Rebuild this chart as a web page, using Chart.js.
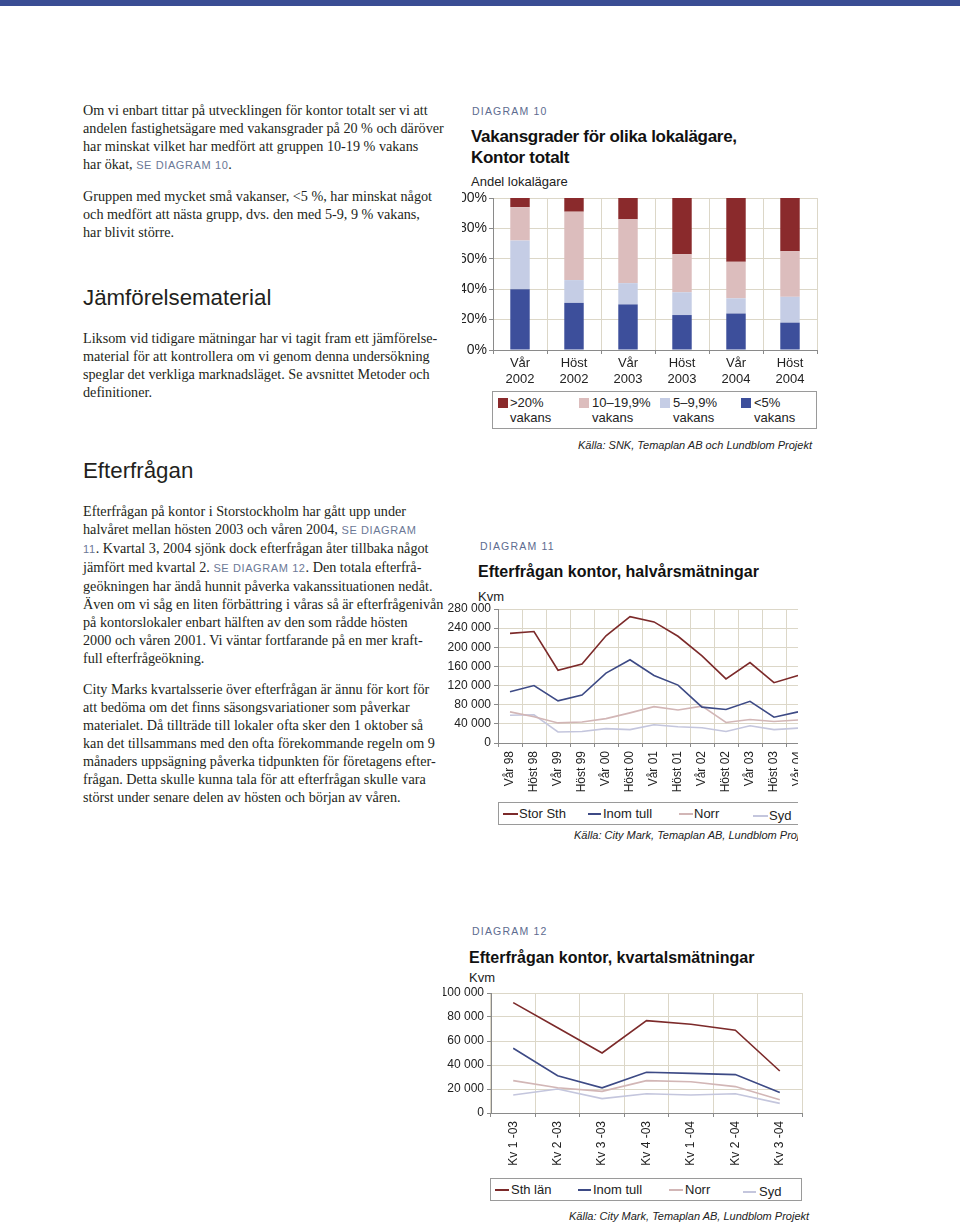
<!DOCTYPE html>
<html>
<head>
<meta charset="utf-8">
<script src="https://cdn.jsdelivr.net/npm/chart.js"></script>
<style>
  body { margin: 0; width: 960px; height: 1224px; position: relative; background: #fff; overflow: hidden; }
  .topbar { position: absolute; left: 0; top: 0; width: 960px; height: 6px; background: #3a4d94; }
  .txt { position: absolute; left: 83px; font-family: "Liberation Serif", serif; font-size: 14.2px; line-height: 18px; color: #231f20; white-space: nowrap; }
  .ref { font-family: "Liberation Sans", Arial, sans-serif; font-size: 11px; color: #6b7896; letter-spacing: 0.6px; }
  .head { position: absolute; left: 83px; font-family: "Liberation Sans", Arial, sans-serif; font-size: 22.3px; color: #231f20; white-space: nowrap; }
  .dlabel { position: absolute; font-family: "Liberation Sans", Arial, sans-serif; font-size: 10.5px; letter-spacing: 1.2px; color: #5d6b8f; white-space: nowrap; }
  .dtitle { position: absolute; font-family: "Liberation Sans", Arial, sans-serif; font-weight: bold; font-size: 17px; letter-spacing: -0.3px; line-height: 21px; color: #111; white-space: nowrap; }
  .unit { position: absolute; font-family: "Liberation Sans", Arial, sans-serif; font-size: 13px; color: #222; white-space: nowrap; }
  .clip { position: absolute; overflow: hidden; }
  .clip canvas { position: absolute; }
  .src { position: absolute; font-family: "Liberation Sans", Arial, sans-serif; font-style: italic; font-size: 11px; color: #222; white-space: nowrap; }
  .legbox { position: absolute; border: 1px solid #9a9a9a; box-sizing: border-box; font-family: "Liberation Sans", Arial, sans-serif; font-size: 13px; color: #222; }
  .legbox .it { position: absolute; white-space: nowrap; line-height: 15px; }
  .sq { position: absolute; width: 10px; height: 10px; }
  .ln { position: absolute; height: 2px; }
</style>
</head>
<body>
<div class="topbar"></div>

<!-- text column -->
<div class="txt" style="top:101px">Om vi enbart tittar på utvecklingen för kontor totalt ser vi att<br>andelen fastighetsägare med vakansgrader på 20 % och däröver<br>har minskat vilket har medfört att gruppen 10-19 % vakans<br>har ökat, <span class="ref">SE DIAGRAM 10</span>.</div>
<div class="txt" style="top:187px">Gruppen med mycket små vakanser, &lt;5 %, har minskat något<br>och medfört att nästa grupp, dvs. den med 5-9, 9 % vakans,<br>har blivit större.</div>
<div class="head" style="top:285px">Jämförelsematerial</div>
<div class="txt" style="top:329px">Liksom vid tidigare mätningar har vi tagit fram ett jämförelse-<br>material för att kontrollera om vi genom denna undersökning<br>speglar det verkliga marknadsläget. Se avsnittet Metoder och<br>definitioner.</div>
<div class="head" style="top:458px">Efterfrågan</div>
<div class="txt" style="top:502px">Efterfrågan på kontor i Storstockholm har gått upp under<br>halvåret mellan hösten 2003 och våren 2004, <span class="ref">SE DIAGRAM</span><br><span class="ref">11</span>. Kvartal 3, 2004 sjönk dock efterfrågan åter tillbaka något<br>jämfört med kvartal 2. <span class="ref">SE DIAGRAM 12</span>. Den totala efterfrå-<br>geökningen har ändå hunnit påverka vakanssituationen nedåt.<br>Även om vi såg en liten förbättring i våras så är efterfrågenivån<br>på kontorslokaler enbart hälften av den som rådde hösten<br>2000 och våren 2001. Vi väntar fortfarande på en mer kraft-<br>full efterfrågeökning.</div>
<div class="txt" style="top:680px">City Marks kvartalsserie över efterfrågan är ännu för kort för<br>att bedöma om det finns säsongsvariationer som påverkar<br>materialet. Då tillträde till lokaler ofta sker den 1 oktober så<br>kan det tillsammans med den ofta förekommande regeln om 9<br>månaders uppsägning påverka tidpunkten för företagens efter-<br>frågan. Detta skulle kunna tala för att efterfrågan skulle vara<br>störst under senare delen av hösten och början av våren.</div>

<!-- diagram 10 -->
<div class="dlabel" style="left:472px;top:105px">DIAGRAM 10</div>
<div class="dtitle" style="left:471px;top:126px">Vakansgrader för olika lokalägare,<br>Kontor totalt</div>
<div class="unit" style="left:471px;top:174px">Andel lokalägare</div>
<div class="clip" style="left:462px;top:186px;width:360px;height:204px">
  <canvas id="chart10" style="left:-7px;top:4px"></canvas>
</div>
<div class="legbox" style="left:492px;top:391px;width:325px;height:38px">
  <div class="sq" style="left:5px;top:6px;background:#8a2a2c"></div>
  <div class="it" style="left:17px;top:3px">&gt;20%<br>vakans</div>
  <div class="sq" style="left:86px;top:6px;background:#dcbdbd"></div>
  <div class="it" style="left:99px;top:3px">10–19,9%<br>vakans</div>
  <div class="sq" style="left:167px;top:6px;background:#c5cde5"></div>
  <div class="it" style="left:180px;top:3px">5–9,9%<br>vakans</div>
  <div class="sq" style="left:248px;top:6px;background:#3d4f9b"></div>
  <div class="it" style="left:261px;top:3px">&lt;5%<br>vakans</div>
</div>
<div class="src" style="left:578px;top:439px">Källa: SNK, Temaplan AB och Lundblom Projekt</div>

<!-- diagram 11 -->
<div class="dlabel" style="left:480px;top:540px">DIAGRAM 11</div>
<div class="dtitle" style="left:478px;top:561px;font-size:16px;letter-spacing:0">Efterfrågan kontor, halvårsmätningar</div>
<div class="unit" style="left:478px;top:589px">Kvm</div>
<div class="clip" style="left:440px;top:596px;width:358px;height:200px">
  <canvas id="chart11" style="left:0;top:5px"></canvas>
</div>
<div class="clip" style="left:498px;top:802px;width:300px;height:23px">
  <div class="legbox" style="left:0;top:0;width:320px;height:23px">
    <div class="ln" style="left:4px;top:10px;width:15px;background:#7c2a2a"></div>
    <div class="it" style="left:20px;top:3px">Stor Sth</div>
    <div class="ln" style="left:89px;top:10px;width:13px;background:#3d4a85"></div>
    <div class="it" style="left:104px;top:3px">Inom tull</div>
    <div class="ln" style="left:180px;top:10px;width:14px;background:#d2b6b6"></div>
    <div class="it" style="left:195px;top:3px">Norr</div>
    <div class="ln" style="left:254px;top:12px;width:15px;background:#c4c6dd"></div>
    <div class="it" style="left:270px;top:5px">Syd</div>
  </div>
</div>
<div class="clip" style="left:560px;top:828px;width:238px;height:16px">
  <div class="src" style="left:14px;top:1px">Källa: City Mark, Temaplan AB, Lundblom Projekt</div>
</div>

<!-- diagram 12 -->
<div class="dlabel" style="left:472px;top:925px">DIAGRAM 12</div>
<div class="dtitle" style="left:469px;top:947px;font-size:16px;letter-spacing:0">Efterfrågan kontor, kvartalsmätningar</div>
<div class="unit" style="left:469px;top:970px">Kvm</div>
<div class="clip" style="left:443px;top:980px;width:370px;height:190px">
  <canvas id="chart12" style="left:-13px;top:5px"></canvas>
</div>
<div class="legbox" style="left:490px;top:1178px;width:312px;height:23px">
  <div class="ln" style="left:4px;top:10px;width:14px;background:#7c2a2a"></div>
  <div class="it" style="left:20px;top:3px">Sth län</div>
  <div class="ln" style="left:87px;top:10px;width:13px;background:#3d4a85"></div>
  <div class="it" style="left:102px;top:3px">Inom tull</div>
  <div class="ln" style="left:178px;top:10px;width:14px;background:#d2b6b6"></div>
  <div class="it" style="left:194px;top:3px">Norr</div>
  <div class="ln" style="left:252px;top:12px;width:13px;background:#c4c6dd"></div>
  <div class="it" style="left:268px;top:5px">Syd</div>
</div>
<div class="src" style="left:569px;top:1210px">Källa: City Mark, Temaplan AB, Lundblom Projekt</div>

<script>
// Diagram 10 - vacancy shares (percent of owners)
const periods10 = [["Vår", "2002"], ["Höst", "2002"], ["Vår", "2003"], ["Höst", "2003"], ["Vår", "2004"], ["Höst", "2004"]];
const under5 = [40, 31, 30, 23, 24, 18];
const from5to9 = [32, 15, 14, 15, 10, 17];
const from10to19 = [22, 45, 42, 25, 24, 30];
const over20 = [6, 9, 14, 37, 42, 35];
const pctTicks = [0, 20, 40, 60, 80, 100];

// Diagram 11 - half-year demand (kvm)
const periods11 = ["Vår 98", "Höst 98", "Vår 99", "Höst 99", "Vår 00", "Höst 00", "Vår 01", "Höst 01", "Vår 02", "Höst 02", "Vår 03", "Höst 03", "Vår 04"];
const storSth = [229000, 233000, 152000, 165000, 224000, 264000, 253000, 223000, 182000, 134000, 168000, 126000, 141000];
const inomTull11 = [107000, 120000, 88000, 100000, 146000, 174000, 141000, 121000, 75000, 70000, 87000, 54000, 65000];
const norr11 = [65000, 55000, 42000, 44000, 51000, 63000, 76000, 69000, 77000, 43000, 49000, 45000, 48000];
const syd11 = [58000, 59000, 23000, 24000, 30000, 28000, 38000, 34000, 32000, 24000, 36000, 28000, 31000];

// Diagram 12 - quarterly demand (kvm)
const quarters12 = ["Kv 1 -03", "Kv 2 -03", "Kv 3 -03", "Kv 4 -03", "Kv 1 -04", "Kv 2 -04", "Kv 3 -04"];
const sthLan = [92000, 71000, 50000, 77000, 74000, 69000, 35000];
const inomTull12 = [54000, 31000, 21000, 34000, 33000, 32000, 17000];
const norr12 = [27000, 21000, 18000, 27000, 26000, 22000, 11000];
const syd12 = [15000, 20000, 12000, 16000, 15000, 16000, 8000];

const gridColor = "#dcd7c8";
const axisColor = "#8a8a8a";
const font = "'Liberation Sans', Arial, sans-serif";

function kvm(value) {
  if (value === 0) return "0";
  return value / 1000 + " 000";
}

function sizeCanvas(id, w, h) {
  const c = document.getElementById(id);
  c.width = w;
  c.height = h;
  c.style.width = w + "px";
  c.style.height = h + "px";
  return c.getContext("2d");
}

// keep the plot area exactly where the layout padding puts it
function fitX(height) {
  return (s) => { s.height = height; s.paddingLeft = 0; s.paddingRight = 0; };
}
function fitY(width) {
  return (s) => { s.width = width; s.paddingTop = 0; s.paddingBottom = 0; };
}

// Bar chart
function drawDiagram10() {
  const ctx = sizeCanvas("chart10", 363, 200);
  new Chart(ctx, {
    type: "bar",
    data: {
      labels: periods10,
      datasets: [
        { label: "<5% vakans", data: under5, backgroundColor: "#3d4f9b" },
        { label: "5–9,9% vakans", data: from5to9, backgroundColor: "#c5cde5" },
        { label: "10–19,9% vakans", data: from10to19, backgroundColor: "#dcbdbd" },
        { label: ">20% vakans", data: over20, backgroundColor: "#8a2a2c" },
      ],
    },
    options: {
      responsive: false,
      animation: false,
      layout: { padding: { top: 8, right: 1, bottom: 0, left: 0 } },
      datasets: { bar: { categoryPercentage: 1, barPercentage: 0.36 } },
      plugins: { legend: { display: false }, tooltip: { enabled: false } },
      scales: {
        x: {
          stacked: true,
          grid: { color: gridColor, tickColor: axisColor, tickLength: 4 },
          border: { color: axisColor },
          ticks: { color: "#222", font: { family: font, size: 13 }, padding: 2 },
          afterFit: fitX(40),
        },
        y: {
          stacked: true,
          min: 0,
          max: 100,
          afterBuildTicks: (s) => { s.ticks = pctTicks.map((v) => ({ value: v })); },
          grid: { color: gridColor, tickColor: axisColor, tickLength: 4 },
          border: { color: axisColor },
          ticks: { color: "#222", font: { family: font, size: 14 }, padding: 2, callback: (v) => v + "%" },
          afterFit: fitY(38),
        },
      },
    },
  });
}

// Line charts
function drawLines(id, w, h, labels, series, max, step, yWidth, xHeight) {
  const ctx = sizeCanvas(id, w, h);
  new Chart(ctx, {
    type: "line",
    data: {
      labels: labels,
      datasets: series.map((s) => ({
        label: s.name,
        data: s.data,
        borderColor: s.color,
        borderWidth: 1.6,
        pointRadius: 0,
        tension: 0,
        fill: false,
      })),
    },
    options: {
      responsive: false,
      animation: false,
      layout: { padding: { top: 8, right: 1, bottom: 0, left: 0 } },
      plugins: { legend: { display: false }, tooltip: { enabled: false } },
      scales: {
        x: {
          offset: true,
          grid: { offset: true, color: gridColor, tickColor: axisColor, tickLength: 4 },
          border: { color: axisColor },
          ticks: { color: "#222", font: { family: font, size: 12 }, minRotation: 90, maxRotation: 90, autoSkip: false, padding: 4 },
          afterFit: fitX(xHeight),
        },
        y: {
          min: 0,
          max: max,
          ticks: { stepSize: step, color: "#222", font: { family: font, size: 12 }, padding: 3, callback: kvm },
          grid: { color: gridColor, tickColor: axisColor, tickLength: 4 },
          border: { color: axisColor },
          afterFit: fitY(yWidth),
        },
      },
    },
  });
}

document.addEventListener("DOMContentLoaded", function () {
  drawDiagram10();
  drawLines("chart11", 371, 194, periods11, [
    { name: "Stor Sth", data: storSth, color: "#7c2a2a" },
    { name: "Inom tull", data: inomTull11, color: "#3d4a85" },
    { name: "Norr", data: norr11, color: "#d2b6b6" },
    { name: "Syd", data: syd11, color: "#c4c6dd" },
  ], 280000, 40000, 58, 52);
  drawLines("chart12", 373, 184, quarters12, [
    { name: "Sth län", data: sthLan, color: "#7c2a2a" },
    { name: "Inom tull", data: inomTull12, color: "#3d4a85" },
    { name: "Norr", data: norr12, color: "#d2b6b6" },
    { name: "Syd", data: syd12, color: "#c4c6dd" },
  ], 100000, 20000, 61, 56);
});
</script>
</body>
</html>
